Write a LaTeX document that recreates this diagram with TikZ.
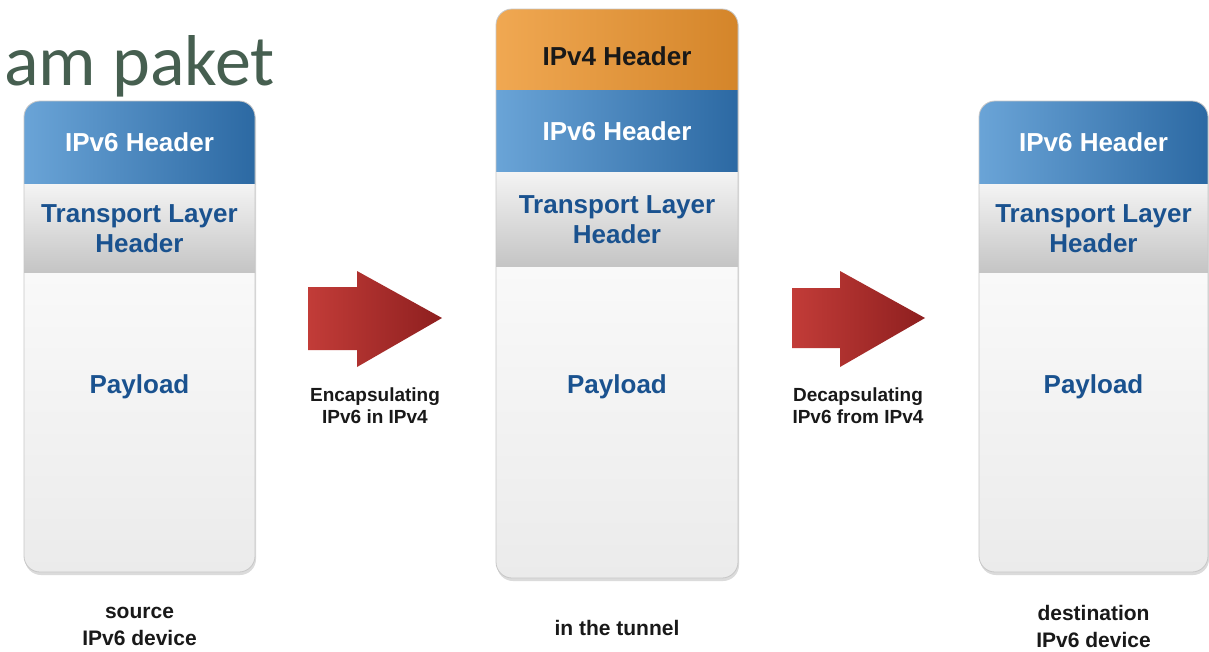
\documentclass[tikz,border=0pt]{standalone}
\usepackage{fontspec}
\setmainfont{Liberation Sans}
\newfontfamily\titlefont{Carlito}
\definecolor{hdA}{HTML}{6AA4D7}
\definecolor{hdB}{HTML}{2C69A3}
\definecolor{vfA}{HTML}{F0A852}
\definecolor{vfB}{HTML}{D4852A}
\definecolor{trA}{HTML}{F4F4F4}
\definecolor{trB}{HTML}{C4C4C4}
\definecolor{plA}{HTML}{F9F9F9}
\definecolor{plB}{HTML}{EBEBEB}
\definecolor{txtblue}{HTML}{1A528F}
\definecolor{arA}{HTML}{C23C38}
\definecolor{arB}{HTML}{8E1F1F}
\definecolor{titlecol}{HTML}{465F50}
\tikzset{
  band/.style={rectangle, inner sep=0pt, outer sep=0pt, draw=none, align=center,
    font=\bfseries\fontsize{26}{30}\selectfont},
  sixband/.style={band, left color=hdA, right color=hdB, text=white},
  fourband/.style={band, left color=vfA, right color=vfB},
  trband/.style={band, top color=trA, bottom color=trB, text=txtblue},
  plband/.style={band, top color=plA, bottom color=plB},
  bandtxt/.style={inner sep=0pt, align=center, font=\bfseries\fontsize{26}{30}\selectfont},
  caption/.style={inner sep=0pt, align=center, font=\bfseries\fontsize{21}{27}\selectfont, text=black!90},
  arrowlbl/.style={inner sep=0pt, align=center, font=\bfseries\fontsize{19}{22}\selectfont, text=black!90},
  packetframe/.style={draw=black!22, line width=0.8pt, rounded corners=16pt},
  packetshadow/.style={fill=black!14, rounded corners=16pt},
  blockarrow/.style={shading=axis, shading angle=135, left color=arA, right color=arB, draw=none},
}
\begin{document}
\begin{tikzpicture}[x=1pt,y=-1pt]
\useasboundingbox (0,0) rectangle (1209,651);
\fill[white] (0,0) rectangle (1209,651);

% title
\node[anchor=base east, inner sep=0pt, font=\titlefont\fontsize{72}{80}\selectfont, text=titlecol] (title) at (275,85) {am paket};

% ---------- left packet ----------
\fill[packetshadow] (25,104) rectangle (256,575);
\begin{scope}
  \clip[rounded corners=16pt] (24,101) rectangle (255,572);
  \node[sixband, minimum width=231, minimum height=83] (L6) at (139.5,142.5) {IPv6 Header};
  \node[trband, minimum width=231, minimum height=89] (LT) at (139.5,228.5) {Transport Layer\\Header};
  \node[plband, minimum width=231, minimum height=299] (LP) at (139.5,422.5) {};
\end{scope}
\draw[packetframe] (24,101) rectangle (255,572);
\node[bandtxt, text=txtblue] (LPt) at (139.5,387) {Payload};
\node[caption] (Lcap) at (139.5,626) {source\\IPv6 device};

% ---------- middle packet ----------
\fill[packetshadow] (497,12) rectangle (739,581);
\begin{scope}
  \clip[rounded corners=16pt] (496,9) rectangle (738,578);
  \node[fourband, minimum width=242, minimum height=81] (M4) at (617,49.5) {};
  \node[sixband, minimum width=242, minimum height=82] (M6) at (617,131) {IPv6 Header};
  \node[trband, minimum width=242, minimum height=95] (MT) at (617,219.5) {Transport Layer\\Header};
  \node[plband, minimum width=242, minimum height=311] (MP) at (617,422.5) {};
\end{scope}
\draw[packetframe] (496,9) rectangle (738,578);
\node[bandtxt, text=black!90] (M4t) at (617,56) {IPv4 Header};
\node[bandtxt, text=txtblue] (MPt) at (617,387) {Payload};
\node[caption] (Mcap) at (617,628) {in the tunnel};

% ---------- right packet ----------
\fill[packetshadow] (980,104) rectangle (1209,575);
\begin{scope}
  \clip[rounded corners=16pt] (979,101) rectangle (1208,572);
  \node[sixband, minimum width=229, minimum height=83] (R6) at (1093.5,142.5) {IPv6 Header};
  \node[trband, minimum width=229, minimum height=89] (RT) at (1093.5,228.5) {Transport Layer\\Header};
  \node[plband, minimum width=229, minimum height=299] (RP) at (1093.5,422.5) {};
\end{scope}
\draw[packetframe] (979,101) rectangle (1208,572);
\node[bandtxt, text=txtblue] (RPt) at (1093.5,387) {Payload};
\node[caption] (Rcap) at (1093.5,626) {destination\\IPv6 device};

% ---------- arrows ----------
\shade[blockarrow] (308,287) -- (357,287) -- (357,271) -- (442,318) -- (357,367) -- (357,350) -- (308,350) -- cycle;
\node[arrowlbl] (enc) at (375,406) {Encapsulating\\IPv6 in IPv4};
\shade[blockarrow] (792,288) -- (840,288) -- (840,271) -- (925,318) -- (840,367) -- (840,348) -- (792,348) -- cycle;
\node[arrowlbl] (dec) at (858,406) {Decapsulating\\IPv6 from IPv4};
\end{tikzpicture}
\end{document}
